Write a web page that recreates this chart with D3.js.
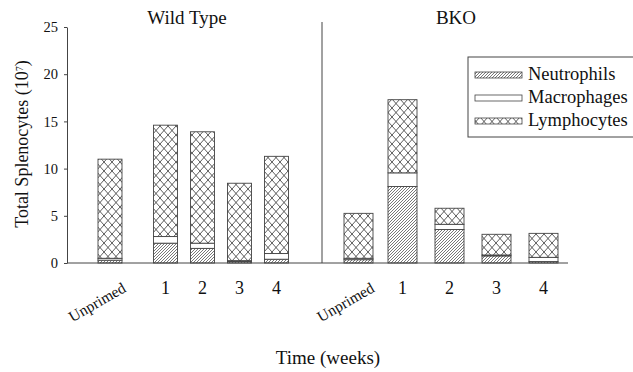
<!DOCTYPE html>
<html>
<head>
<meta charset="utf-8">
<script src="https://cdn.jsdelivr.net/npm/d3@7"></script>
<style>
  body { margin: 0; background: #fff; }
  svg text { font-family: 'Liberation Serif', 'Times New Roman', serif !important; fill: #111; }
</style>
</head>
<body>
<div id="chart"></div>
<script>
// categories and values (units of 10^7 cells)
var categories = ["Unprimed", "1", "2", "3", "4"];
var cellTypes = ["Neutrophils", "Macrophages", "Lymphocytes"];

var wtNeutrophils = [0.3, 2.1, 1.55, 0.15, 0.4];
var wtMacrophages = [0.2, 0.7, 0.55, 0.1, 0.6];
var wtLymphocytes = [10.5, 11.8, 11.8, 8.2, 10.3];

var bkoNeutrophils = [0.35, 8.1, 3.55, 0.75, 0.15];
var bkoMacrophages = [0.15, 1.45, 0.55, 0.1, 0.45];
var bkoLymphocytes = [4.76, 7.75, 1.7, 2.19, 2.54];

var yTicks = [0, 5, 10, 15, 20, 25];

var width = 633, height = 372;
var serif = "'Liberation Serif', 'Times New Roman', serif";

var svg = d3.select("#chart")
  .append("svg")
    .attr("width", width)
    .attr("height", height)
    .attr("font-family", serif);

// hatch patterns
var defs = svg.append("defs");
defs.append("pattern")
    .attr("id", "hatchN")
    .attr("patternUnits", "userSpaceOnUse")
    .attr("width", 3).attr("height", 3)
  .append("path")
    .attr("d", "M0,3 L3,0 M-1,1 L1,-1 M2,4 L4,2")
    .attr("stroke", "#555")
    .attr("stroke-width", 0.8);

var cross = defs.append("pattern")
    .attr("id", "hatchL")
    .attr("patternUnits", "userSpaceOnUse")
    .attr("width", 8).attr("height", 9);
cross.append("rect").attr("width", 8).attr("height", 9).attr("fill", "#fff");
cross.append("path")
    .attr("d", "M0,0 L8,9 M8,0 L0,9")
    .attr("stroke", "#333")
    .attr("stroke-width", 0.8);

var fills = {Neutrophils: "url(#hatchN)", Macrophages: "#fff", Lymphocytes: "url(#hatchL)"};

// y scale
var y = d3.scaleLinear()
  .domain([0, 25])
  .range([263, 27]);

// panels: unprimed bar on its own, weeks on a linear scale
var panels = [
  {name: "Wild Type", titleX: 187, unprimedX: 110, weeks: [165.5, 276.5], barW: 24,
   values: [wtNeutrophils, wtMacrophages, wtLymphocytes]},
  {name: "BKO", titleX: 456, unprimedX: 358.5, weeks: [402.5, 543.5], barW: 29,
   values: [bkoNeutrophils, bkoMacrophages, bkoLymphocytes]}
];

var stack = d3.stack().keys(cellTypes);

panels.forEach(function(p) {
  var xw = d3.scaleLinear().domain([1, 4]).range(p.weeks);
  var cx = function(i) { return i === 0 ? p.unprimedX : xw(+categories[i]); };

  var rows = categories.map(function(c, i) {
    var r = {cat: c, idx: i};
    cellTypes.forEach(function(k, j) { r[k] = p.values[j][i]; });
    return r;
  });

  var series = stack(rows);
  var g = svg.append("g");
  series.forEach(function(s) {
    g.selectAll(null)
      .data(s)
      .enter()
      .append("rect")
        .attr("x", function(d) { return cx(d.data.idx) - p.barW / 2; })
        .attr("y", function(d) { return y(d[1]); })
        .attr("width", p.barW)
        .attr("height", function(d) { return y(d[0]) - y(d[1]); })
        .attr("fill", fills[s.key])
        .attr("stroke", "#444")
        .attr("stroke-width", 0.9);
  });

  // category labels
  categories.forEach(function(c, i) {
    if (i === 0) {
      svg.append("text")
        .attr("transform", "translate(" + (cx(0) + 17) + ",291) rotate(-30)")
        .attr("text-anchor", "end")
        .style("font-size", "15.5px")
        .text(c);
    } else {
      svg.append("text")
        .attr("x", cx(i))
        .attr("y", 294)
        .attr("text-anchor", "middle")
        .style("font-size", "18px")
        .text(c);
    }
  });

  // panel title
  svg.append("text")
    .attr("x", p.titleX)
    .attr("y", 24)
    .attr("text-anchor", "middle")
    .style("font-size", "19px")
    .text(p.name);
});

// y axis
var yAxis = svg.append("g")
  .attr("transform", "translate(67,0)")
  .call(d3.axisLeft(y).tickValues(yTicks).tickSize(3).tickSizeOuter(0))
  .attr("font-family", serif);
yAxis.select(".domain").attr("stroke", "#444");
yAxis.selectAll(".tick line").attr("stroke", "#444");
yAxis.selectAll(".tick text")
  .attr("x", -9)
  .style("font-size", "14.5px")
  .attr("fill", "#222");

// baseline and panel divider
svg.append("line")
  .attr("x1", 67).attr("x2", 568)
  .attr("y1", y(0)).attr("y2", y(0))
  .attr("stroke", "#444");
svg.append("line")
  .attr("x1", 322).attr("x2", 322)
  .attr("y1", 22).attr("y2", y(0))
  .attr("stroke", "#444");

// y axis label
var yl = svg.append("text")
  .attr("transform", "translate(28,144) rotate(-90)")
  .attr("text-anchor", "middle")
  .style("font-size", "18px");
yl.append("tspan").text("Total Splenocytes (10");
yl.append("tspan").attr("baseline-shift", "super").style("font-size", "10px").text("7");
yl.append("tspan").text(")");

// x axis title
svg.append("text")
  .attr("x", 328)
  .attr("y", 364)
  .attr("text-anchor", "middle")
  .style("font-size", "19px")
  .text("Time (weeks)");

// legend
var lg = svg.append("g");
lg.append("rect")
  .attr("x", 468).attr("y", 57)
  .attr("width", 180).attr("height", 80)
  .attr("fill", "#fff")
  .attr("stroke", "#444");
cellTypes.forEach(function(k, i) {
  var yy = 75 + i * 23;
  lg.append("rect")
    .attr("x", 475).attr("y", yy - 3)
    .attr("width", 47).attr("height", 6)
    .attr("fill", fills[k])
    .attr("stroke", "#444")
    .attr("stroke-width", 0.8);
  lg.append("text")
    .attr("x", 528).attr("y", yy + 5)
    .style("font-size", "18.5px")
    .text(k);
});
</script>
</body>
</html>
